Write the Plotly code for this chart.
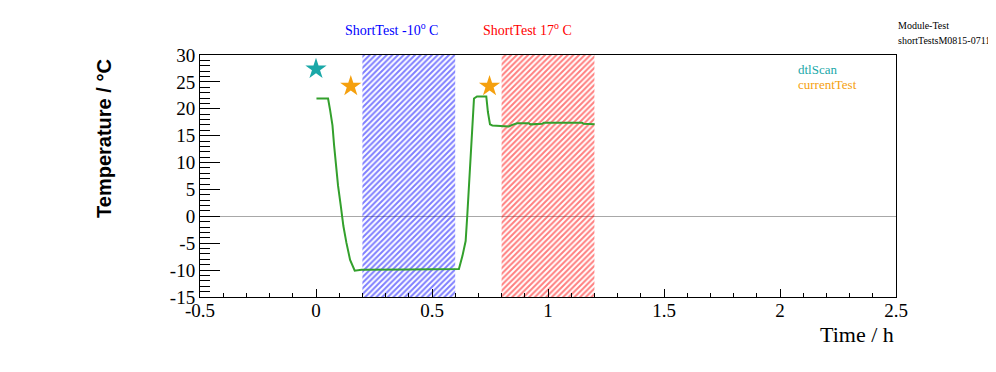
import plotly.graph_objects as go

# ---- data ----
time_h = [0.002, 0.052, 0.061, 0.071, 0.078, 0.085, 0.095, 0.107, 0.118, 0.131, 0.147, 0.167,
          0.196, 0.40, 0.616, 0.631, 0.645, 0.652, 0.659, 0.666, 0.674, 0.681, 0.694, 0.734,
          0.741, 0.750, 0.760, 0.784, 0.831, 0.846, 0.867, 0.917, 0.925, 0.975, 0.982, 1.147,
          1.154, 1.201]
temp_c = [21.9, 21.9, 19.7, 16.9, 13.2, 9.4, 5.7, 1.9, -1.8, -4.9, -8.1, -10.1,
          -9.95, -9.9, -9.8, -7.4, -4.6, 0.1, 5.7, 11.3, 16.6, 21.9, 22.3, 22.3,
          19.4, 17.1, 16.9, 16.8, 16.7, 17.0, 17.3, 17.3, 17.1, 17.2, 17.4, 17.4,
          17.2, 17.1]

dtl_x = [0.0]
dtl_y = [27.4]
cur_x = [0.15, 0.748]
cur_y = [24.2, 24.2]

cold_region = [0.2, 0.6]
warm_region = [0.8, 1.2]
y_range = [-15, 30]
x_range = [-0.5, 2.5]

x_tickvals = [-0.5, 0, 0.5, 1, 1.5, 2, 2.5]
x_ticktext = ["-0.5", "0", "0.5", "1", "1.5", "2", "2.5"]
y_tickvals = [-15, -10, -5, 0, 5, 10, 15, 20, 25, 30]
y_ticktext = ["-15", "-10", "-5", "0", "5", "10", "15", "20", "25", "30"]

serif = "Liberation Serif"

fig = go.Figure()

def hatch(region, color):
    fig.add_trace(go.Scatter(
        x=[region[0], region[1], region[1], region[0], region[0]],
        y=[y_range[0], y_range[0], y_range[1], y_range[1], y_range[0]],
        fill="toself", mode="lines", line=dict(width=0),
        fillcolor="rgba(0,0,0,0)",
        fillpattern=dict(shape="/", fgcolor=color, bgcolor="rgba(0,0,0,0)",
                         size=4, solidity=0.5),
        hoverinfo="skip", showlegend=False))

hatch(cold_region, "#0000ff")
hatch(warm_region, "#ff0000")

fig.add_trace(go.Scatter(x=time_h, y=temp_c, mode="lines",
                         line=dict(color="#33a02c", width=2), showlegend=False))
fig.add_trace(go.Scatter(x=dtl_x, y=dtl_y, mode="markers",
                         marker=dict(symbol="star", size=16, color="#1aa8a8", line=dict(width=0)),
                         showlegend=False))
fig.add_trace(go.Scatter(x=cur_x, y=cur_y, mode="markers",
                         marker=dict(symbol="star", size=16, color="#f5a00e", line=dict(width=0)),
                         showlegend=False))

axis_common = dict(showline=True, linecolor="black", linewidth=1, mirror=True,
                   showgrid=False, ticks="inside", tickcolor="black",
                   tickfont=dict(family=serif, size=19, color="black"))

fig.update_xaxes(range=x_range, tickmode="array", tickvals=x_tickvals, ticktext=x_ticktext,
                 ticklen=8, zeroline=False, ticklabelstandoff=-4,
                 minor=dict(ticks="inside", dtick=0.1, tick0=0, ticklen=4, tickcolor="black"),
                 **axis_common)
fig.update_yaxes(range=y_range, tickmode="array", tickvals=y_tickvals, ticktext=y_ticktext,
                 ticklen=20,
                 zeroline=True, zerolinecolor="#a8a8a8", zerolinewidth=1,
                 minor=dict(ticks="inside", dtick=1, tick0=0, ticklen=10, tickcolor="black"),
                 ticklabelstandoff=0,
                 **axis_common)

ann = [
    dict(text="ShortTest -10<sup>o</sup> C", x=0.275, y=1.107, font=dict(family=serif, size=14, color="#0000ff")),
    dict(text="ShortTest 17<sup>o</sup> C", x=0.471, y=1.107, font=dict(family=serif, size=14, color="#ff0000")),
    dict(text="Module-Test", x=1.0, y=1.121, xanchor="left", font=dict(family=serif, size=10, color="black")),
    dict(text="shortTestsM0815-071122", x=1.0, y=1.059, xanchor="left", font=dict(family=serif, size=10, color="black")),
    dict(text="dtlScan", x=0.856, y=0.941, xanchor="left", font=dict(family=serif, size=13, color="#1aa8a8")),
    dict(text="currentTest", x=0.856, y=0.879, xanchor="left", font=dict(family=serif, size=13, color="#f5a00e")),
    dict(text="Time / h", x=1.0, y=-0.157, xanchor="right", font=dict(family=serif, size=22, color="black")),
    dict(text="<b>Temperature / °C</b>", x=-0.138, y=0.657, textangle=-90,
         font=dict(family="Liberation Sans", size=20, color="black")),
]
for a in ann:
    a.setdefault("xanchor", "center")
    fig.add_annotation(xref="paper", yref="paper", showarrow=False, yanchor="middle", **a)

# page body adds an 8px offset; size the figure so it fills the 996x372 window
fig.update_layout(width=988, height=364, margin=dict(l=192, r=100, t=47, b=75),
                  paper_bgcolor="white", plot_bgcolor="white", showlegend=False)

fig.write_html("out.html")
